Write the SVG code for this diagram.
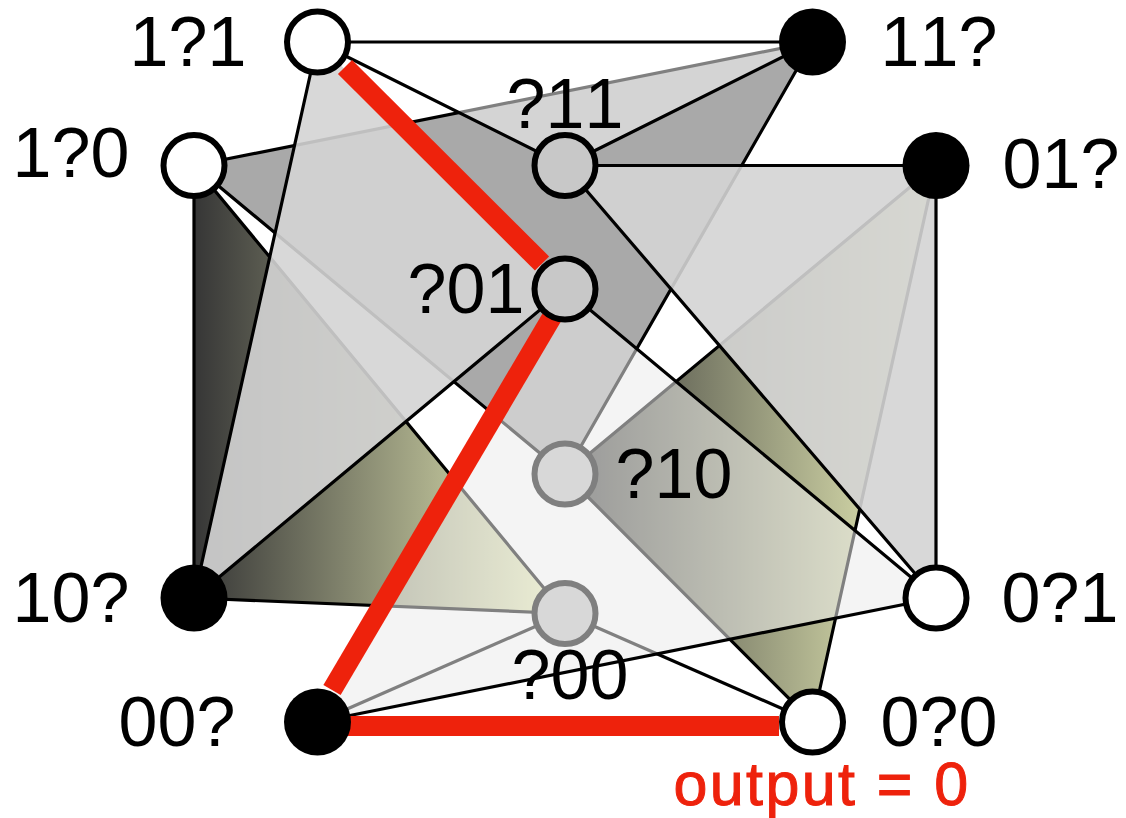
<svg xmlns="http://www.w3.org/2000/svg" width="1126" height="818" viewBox="0 0 1126 818">
<style>
.l{font-family:"Liberation Sans",Arial,sans-serif;font-size:70px;fill:#000;text-anchor:middle;font-kerning:none}
.o{font-family:"Liberation Sans",Arial,sans-serif;font-size:61px;fill:#ee220c;stroke:#ee220c;stroke-width:1;text-anchor:middle;letter-spacing:2.4px;font-kerning:none}
.e{stroke:#000;stroke-width:3.2;fill:none;stroke-linejoin:round}
.f{stroke:none}
.lt{fill:#d4d4d4;fill-opacity:.9}
.w{fill:#fff;fill-opacity:.5}
.s{fill:#ebebeb;fill-opacity:.545}
.r{stroke:#ee220c;stroke-width:20;fill:none}
.wn{fill:#fff;stroke:#000;stroke-width:6}
.gn{fill:#c8c8c8;stroke:#000;stroke-width:6}
.hn{fill:#d8d8d8;stroke:#7f7f7f;stroke-width:6}
.bn{fill:#000}
</style>
<defs>
<linearGradient id="g1" gradientUnits="userSpaceOnUse" x1="194" y1="0" x2="565" y2="0"><stop offset="0" stop-color="#363636"/><stop offset="1" stop-color="#f0f5bd"/></linearGradient>
<linearGradient id="g2" gradientUnits="userSpaceOnUse" x1="565" y1="0" x2="936" y2="0"><stop offset="0" stop-color="#363636"/><stop offset="1" stop-color="#f0f5bd"/></linearGradient>
</defs>
<rect width="1126" height="818" fill="#fff"/>
<g id="connectors">
<polygon points="194,165.5 194,598 565,613.5" class="e" style="fill:url(#g1)"/>
<polygon points="565,474 936,165.5 812.5,722" class="e" style="fill:url(#g2)"/>
<polygon points="194,165.5 812.5,42 565,474" class="e" style="fill:#a9a9a9"/>
<line x1="317.5" y1="722" x2="565" y2="613.5" class="e"/>
<line x1="565" y1="613.5" x2="812.5" y2="722" class="e"/>
<polygon points="317.5,42 565,289 194,598" class="f lt"/>
<polygon points="565,165.5 936,165.5 936,598" class="f lt"/>
<polygon points="317.5,42 812.5,42 565,165.5" class="f w"/>
<polygon points="565,289 317.5,722 936,598" class="f s"/>
<polyline points="565,289 194,598 317.5,42" class="e"/>
<polyline points="317.5,42 812.5,42 565,165.5 317.5,42" class="e"/>
<polyline points="936,598 565,165.5 936,165.5 936,598" class="e"/>
<polyline points="565,289 936,598 317.5,722" class="e"/>
<line x1="345" y1="67" x2="542" y2="263.5" class="r"/>
<line x1="332" y1="690" x2="552" y2="317" class="r"/>
<line x1="335" y1="726" x2="779" y2="726" class="r"/>
</g>
<g id="n-1q1"><circle cx="317.5" cy="42" r="30.5" class="wn"/><text x="188" y="66" class="l">1?1</text></g>
<g id="n-11q"><circle cx="812.5" cy="42" r="33.5" class="bn"/><text x="939" y="66" class="l">11?</text></g>
<g id="n-1q0"><circle cx="194" cy="165.5" r="30.5" class="wn"/><text x="71" y="177" class="l">1?0</text></g>
<g id="n-q11"><circle cx="565" cy="165.5" r="30.5" class="gn"/><text x="565" y="128" class="l">?11</text></g>
<g id="n-01q"><circle cx="936" cy="165.5" r="33.5" class="bn"/><text x="1061" y="188" class="l">01?</text></g>
<g id="n-q01"><circle cx="565" cy="289" r="30.5" class="gn"/><text x="466" y="313" class="l">?01</text></g>
<g id="n-q10"><circle cx="565" cy="474" r="30.5" class="hn"/><text x="674" y="498" class="l">?10</text></g>
<g id="n-10q"><circle cx="194" cy="598" r="33.5" class="bn"/><text x="71" y="622" class="l">10?</text></g>
<g id="n-q00"><circle cx="565" cy="613.5" r="30.5" class="hn"/><text x="570" y="699" class="l">?00</text></g>
<g id="n-0q1"><circle cx="936" cy="598" r="30.5" class="wn"/><text x="1060" y="622" class="l">0?1</text></g>
<g id="n-00q"><circle cx="317.5" cy="722" r="33.5" class="bn"/><text x="177" y="746" class="l">00?</text></g>
<g id="n-0q0"><circle cx="812.5" cy="722" r="30.5" class="wn"/><text x="939" y="746" class="l">0?0</text></g>
<text x="822" y="805" class="o">output = 0</text>
</svg>
